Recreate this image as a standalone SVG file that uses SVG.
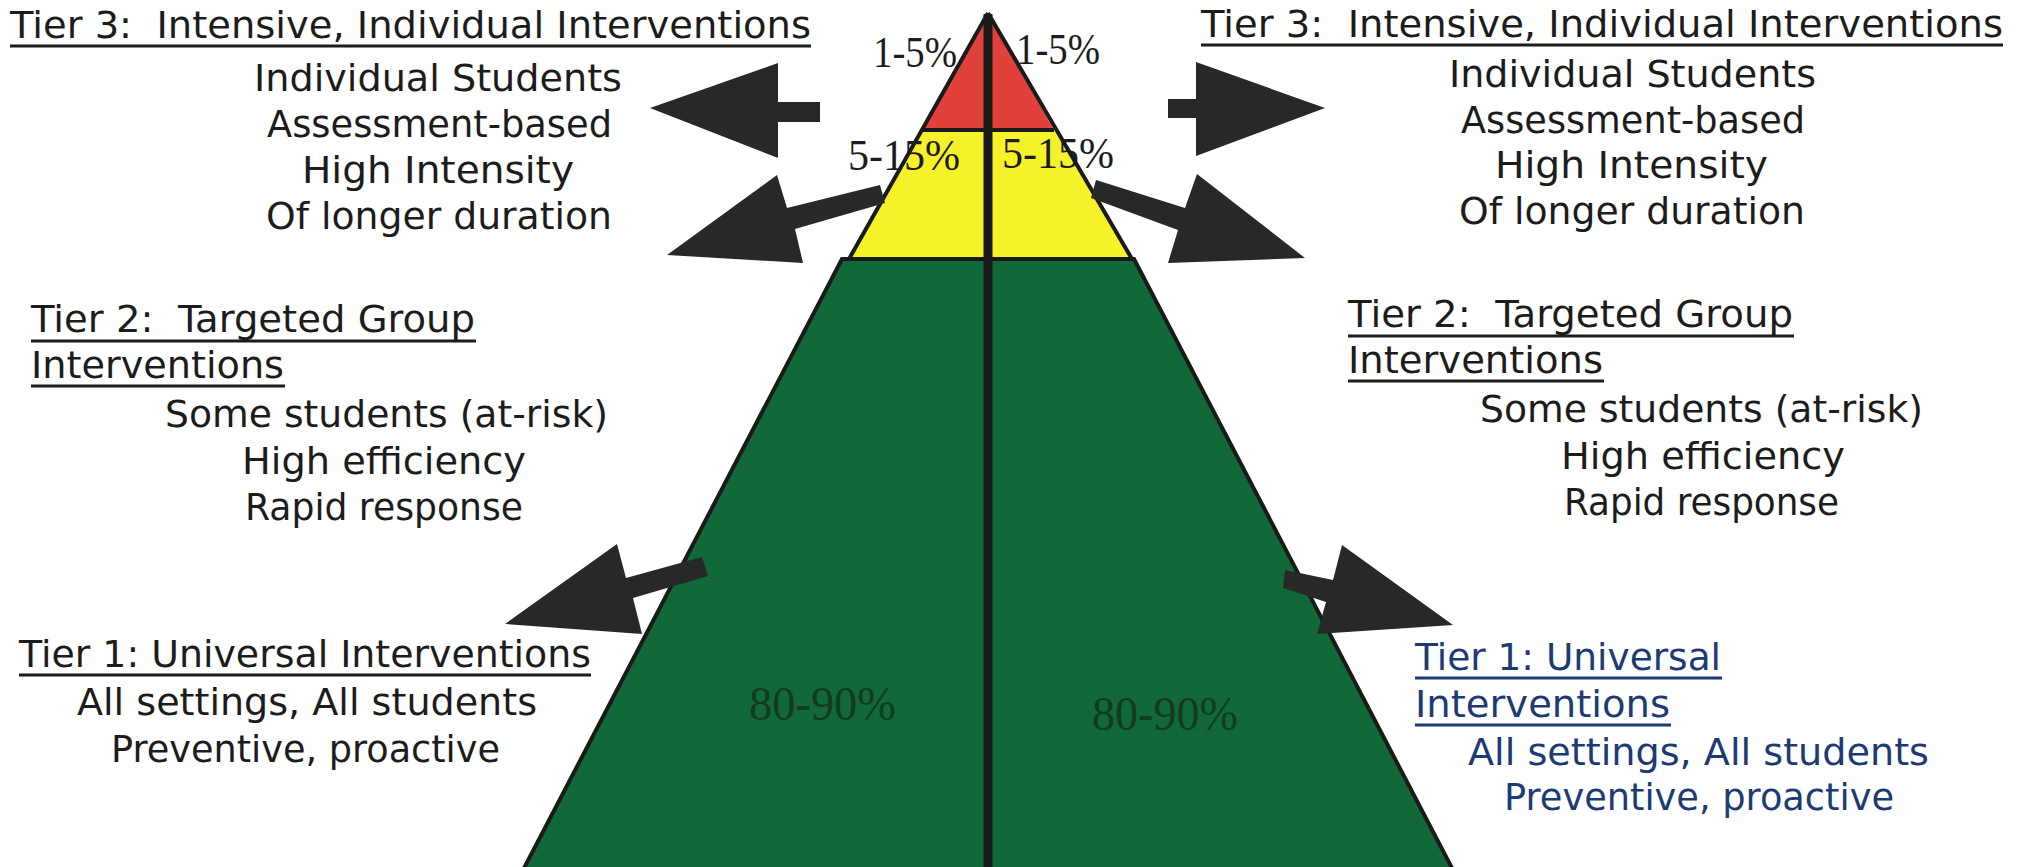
<svg xmlns="http://www.w3.org/2000/svg" width="2024" height="867" viewBox="0 0 2024 867">
<style>
.t{font-family:"DejaVu Sans",sans-serif;font-size:38px;fill:#1c1c1c}
.nv{fill:#1d3a74}
.p{font-family:"Liberation Serif",serif;font-size:44px;fill:#1c1c1c}
.g{font-family:"Liberation Serif",serif;font-size:48px;fill:#133b20}
.ul{stroke:#1c1c1c;stroke-width:3}
.uln{stroke:#1d3a74;stroke-width:3}
.edge{fill:none;stroke:#1a1a1a;stroke-width:4;stroke-linejoin:miter}
.arrow{fill:#282828}
</style>
<rect width="2024" height="867" fill="#ffffff"/>
<g id="pyramid">
  <polygon id="tier-green" points="842,259 1134,259 1453,870 523,870" fill="#11693a"/>
  <polygon id="tier-yellow" points="923,130 1054,130 1132,259 849,259" fill="#f6f22a"/>
  <polygon id="tier-red" points="988,15 923,130 1054,130" fill="#e1403b"/>
</g>
<g id="percent-labels">
  <text class="p" x="873" y="67" textLength="84" lengthAdjust="spacingAndGlyphs">1-5%</text>
  <text class="p" x="1016" y="64" textLength="84" lengthAdjust="spacingAndGlyphs">1-5%</text>
  <text class="p" x="848" y="170" textLength="112" lengthAdjust="spacingAndGlyphs">5-15%</text>
  <text class="p" x="1002" y="168" textLength="112" lengthAdjust="spacingAndGlyphs">5-15%</text>
  <text class="g" x="749" y="720" textLength="147" lengthAdjust="spacingAndGlyphs">80-90%</text>
  <text class="g" x="1092" y="730" textLength="146" lengthAdjust="spacingAndGlyphs">80-90%</text>
</g>
<g id="pyramid-outline">
  <path class="edge" d="M988,13 L849,259 L842,259 L523,870 M988,13 L1132,259 L1134,259 L1453,870 M923,130 L1054,130 M849,259 L1134,259"/>
  <line x1="988" y1="14" x2="988" y2="867" stroke="#1a1a1a" stroke-width="9"/>
</g>
<g id="connectors">
  <polygon class="arrow" points="650,108 778,63 778,102 820,102 820,122 778,122 778,158"/>
  <polygon class="arrow" points="667,255 777,175 787,208 880,185 885,203 795,229 803,263"/>
  <polygon class="arrow" points="1325,108 1196,62 1196,99 1168,99 1168,118 1196,118 1196,156"/>
  <polygon class="arrow" points="1096,180 1185,208 1197,174 1305,258 1168,263 1178,230 1091,198"/>
  <polygon class="arrow" points="505,624 617,544 626,578 702,557 708,576 633,598 642,634"/>
  <polygon class="arrow" points="1285,570 1333,580 1342,545 1453,625 1317,634 1326,602 1283,588"/>
</g>
<g id="tier3-left">
  <text class="t" x="10" y="38" textLength="801" lengthAdjust="spacingAndGlyphs" xml:space="preserve">Tier 3:  Intensive, Individual Interventions</text>
  <line class="ul" x1="10" y1="46" x2="811" y2="46"/>
  <text class="t" x="254" y="91" textLength="368" lengthAdjust="spacingAndGlyphs">Individual Students</text>
  <text class="t" x="267" y="137" textLength="345" lengthAdjust="spacingAndGlyphs">Assessment-based</text>
  <text class="t" x="302" y="183" textLength="272" lengthAdjust="spacingAndGlyphs">High Intensity</text>
  <text class="t" x="266" y="229" textLength="346" lengthAdjust="spacingAndGlyphs">Of longer duration</text>
</g>
<g id="tier3-right">
  <text class="t" x="1201" y="37" textLength="802" lengthAdjust="spacingAndGlyphs" xml:space="preserve">Tier 3:  Intensive, Individual Interventions</text>
  <line class="ul" x1="1201" y1="45" x2="2003" y2="45"/>
  <text class="t" x="1449" y="87" textLength="367" lengthAdjust="spacingAndGlyphs">Individual Students</text>
  <text class="t" x="1461" y="133" textLength="344" lengthAdjust="spacingAndGlyphs">Assessment-based</text>
  <text class="t" x="1495" y="178" textLength="273" lengthAdjust="spacingAndGlyphs">High Intensity</text>
  <text class="t" x="1459" y="224" textLength="346" lengthAdjust="spacingAndGlyphs">Of longer duration</text>
</g>
<g id="tier2-left">
  <text class="t" x="31" y="332" textLength="444" lengthAdjust="spacingAndGlyphs" xml:space="preserve">Tier 2:  Targeted Group</text>
  <line class="ul" x1="31" y1="341" x2="476" y2="341"/>
  <text class="t" x="31" y="378" textLength="253" lengthAdjust="spacingAndGlyphs">Interventions</text>
  <line class="ul" x1="31" y1="386" x2="285" y2="386"/>
  <text class="t" x="165" y="427" textLength="443" lengthAdjust="spacingAndGlyphs">Some students (at-risk)</text>
  <text class="t" x="242" y="474" textLength="284" lengthAdjust="spacingAndGlyphs">High efficiency</text>
  <text class="t" x="245" y="520" textLength="278" lengthAdjust="spacingAndGlyphs">Rapid response</text>
</g>
<g id="tier2-right">
  <text class="t" x="1348" y="327" textLength="445" lengthAdjust="spacingAndGlyphs" xml:space="preserve">Tier 2:  Targeted Group</text>
  <line class="ul" x1="1348" y1="336" x2="1794" y2="336"/>
  <text class="t" x="1348" y="373" textLength="255" lengthAdjust="spacingAndGlyphs">Interventions</text>
  <line class="ul" x1="1348" y1="381" x2="1604" y2="381"/>
  <text class="t" x="1480" y="422" textLength="443" lengthAdjust="spacingAndGlyphs">Some students (at-risk)</text>
  <text class="t" x="1561" y="469" textLength="284" lengthAdjust="spacingAndGlyphs">High efficiency</text>
  <text class="t" x="1564" y="515" textLength="275" lengthAdjust="spacingAndGlyphs">Rapid response</text>
</g>
<g id="tier1-left">
  <text class="t" x="19" y="667" textLength="572" lengthAdjust="spacingAndGlyphs">Tier 1: Universal Interventions</text>
  <line class="ul" x1="19" y1="675" x2="591" y2="675"/>
  <text class="t" x="77" y="715" textLength="460" lengthAdjust="spacingAndGlyphs">All settings, All students</text>
  <text class="t" x="111" y="762" textLength="389" lengthAdjust="spacingAndGlyphs">Preventive, proactive</text>
</g>
<g id="tier1-right">
  <text class="t nv" x="1415" y="670" textLength="306" lengthAdjust="spacingAndGlyphs">Tier 1: Universal</text>
  <line class="uln" x1="1415" y1="678" x2="1722" y2="678"/>
  <text class="t nv" x="1415" y="717" textLength="255" lengthAdjust="spacingAndGlyphs">Interventions</text>
  <line class="uln" x1="1415" y1="725" x2="1671" y2="725"/>
  <text class="t nv" x="1468" y="765" textLength="461" lengthAdjust="spacingAndGlyphs">All settings, All students</text>
  <text class="t nv" x="1504" y="810" textLength="390" lengthAdjust="spacingAndGlyphs">Preventive, proactive</text>
</g>
</svg>
